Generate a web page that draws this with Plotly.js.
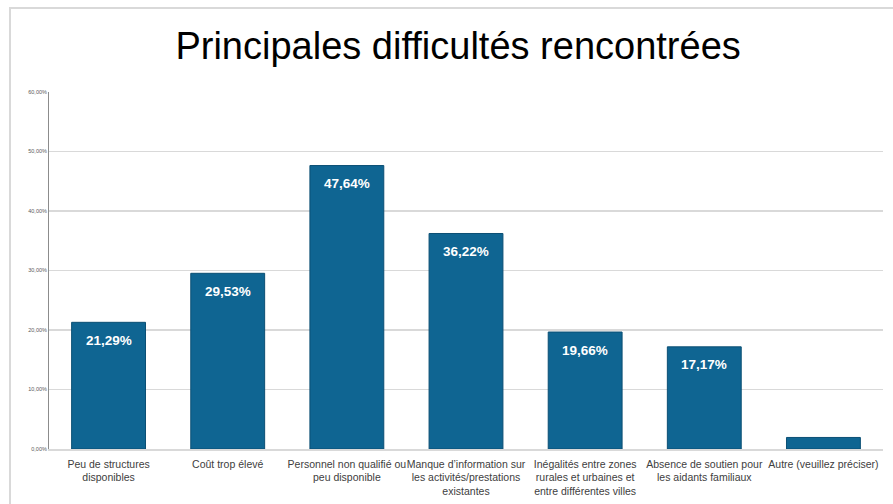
<!DOCTYPE html>
<html>
<head>
<meta charset="utf-8">
<script src="https://cdn.plot.ly/plotly-3.0.1.min.js"></script>
<style>
  html, body { margin: 0; padding: 0; background: #fff; }
  #wrap { position: relative; width: 893px; height: 504px; overflow: hidden; }
  #frame { position: absolute; left: 9px; top: 7px; width: 900px; height: 520px;
           border-left: 2px solid #d9d9d9; border-top: 2px solid #d9d9d9; box-sizing: border-box; }
  #chart { position: absolute; left: 0; top: 0; width: 893px; height: 504px; }
</style>
</head>
<body>
<div id="wrap">
  <div id="frame"></div>
  <div id="chart"></div>
</div>
<script>
const categories = [
  "Peu de structures<br>disponibles",
  "Coût trop élevé",
  "Personnel non qualifié ou<br>peu disponible",
  "Manque d’information sur<br>les activités/prestations<br>existantes",
  "Inégalités entre zones<br>rurales et urbaines et<br>entre différentes villes",
  "Absence de soutien pour<br>les aidants familiaux",
  "Autre (veuillez préciser)"
];
const values = [21.29, 29.53, 47.64, 36.22, 19.66, 17.17, 1.94];
const tickValues = [0, 10, 20, 30, 40, 50, 60];
const tickLabels = ["0,00%", "10,00%", "20,00%", "30,00%", "40,00%", "50,00%", "60,00%"];

const fmt = v => v.toFixed(2).replace('.', ',') + '%';

const trace = {
  type: 'bar',
  x: categories,
  y: values,
  marker: { color: '#0f6592', line: { color: '#0b4f74', width: 1 } },
  hoverinfo: 'none'
};

const annotations = values.map((v, i) => ({
  x: categories[i], y: v, xref: 'x', yref: 'y',
  text: v > 5 ? fmt(v) : '',
  showarrow: false, yanchor: 'middle', yshift: -18,
  font: { family: 'Liberation Sans, Arial, sans-serif', size: 13.5, color: '#ffffff', weight: 'bold' }
}));

const layout = {
  width: 893, height: 504,
  margin: { l: 49, r: 10, t: 92, b: 55 },
  paper_bgcolor: 'rgba(0,0,0,0)',
  plot_bgcolor: 'rgba(0,0,0,0)',
  bargap: 0.38,
  showlegend: false,
  title: {
    text: 'Principales difficultés rencontrées',
    x: 0.513, xanchor: 'center', y: 0.91, yanchor: 'middle', yref: 'container',
    font: { family: 'Liberation Sans, Arial, sans-serif', size: 38, color: '#000000' }
  },
  xaxis: {
    showline: true, linecolor: '#d9d9d9', linewidth: 2,
    ticks: '', showgrid: false, ticklabelstandoff: 4,
    tickfont: { family: 'Liberation Sans, Arial, sans-serif', size: 10.5, color: '#404040' },
    tickangle: 0, automargin: false
  },
  yaxis: {
    range: [0, 60],
    tickvals: tickValues, ticktext: tickLabels,
    showline: true, linecolor: '#8c8c8c', linewidth: 1,
    showgrid: true, gridcolor: '#d9d9d9', gridwidth: 1.5,
    zeroline: false, ticks: '',
    tickfont: { family: 'Liberation Sans, Arial, sans-serif', size: 5.5, color: '#595959' },
    automargin: false
  },
  annotations: annotations
};

Plotly.newPlot('chart', [trace], layout, { displayModeBar: false, staticPlot: true });
</script>
</body>
</html>
